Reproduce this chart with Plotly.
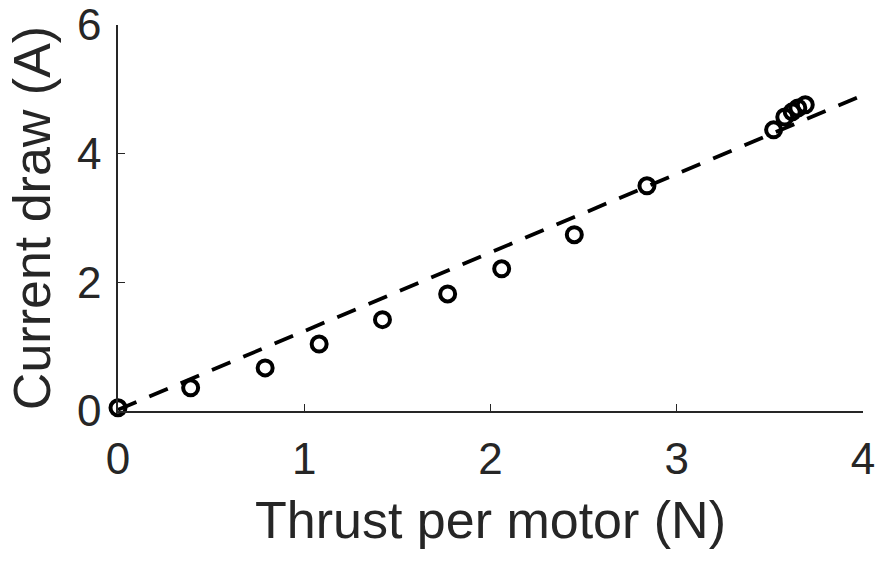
import plotly.graph_objects as go

thrust = [0.0, 0.39, 0.79, 1.08, 1.42, 1.77, 2.06, 2.45, 2.84, 3.52, 3.58, 3.62, 3.65, 3.69]
current = [0.05, 0.36, 0.67, 1.04, 1.42, 1.82, 2.21, 2.74, 3.50, 4.37, 4.57, 4.65, 4.71, 4.76]

fit_slope = 1.222
fit_intercept = 0.02
fit_x = [0.0, 4.0]
fit_y = [fit_slope * x + fit_intercept for x in fit_x]

x_ticks = [0, 1, 2, 3, 4]
y_ticks = [0, 2, 4, 6]

ink = "#262626"
font = "Liberation Sans, Arial, sans-serif"

fig = go.Figure()
fig.add_trace(go.Scatter(
    x=thrust, y=current, mode="markers",
    marker=dict(symbol="circle-open", size=15, color="black", line=dict(width=4, color="black")),
    showlegend=False, cliponaxis=False,
))
fig.add_trace(go.Scatter(
    x=fit_x, y=fit_y, mode="lines",
    line=dict(color="black", width=3.8, dash="20px,14px"),
    showlegend=False,
))

fig.update_layout(
    width=880, height=561,
    margin=dict(l=118, r=17, t=25, b=150),
    paper_bgcolor="white", plot_bgcolor="white",
    font=dict(family=font, color=ink),
    xaxis=dict(
        range=[0, 4], tickvals=x_ticks, ticks="inside", ticklen=7, tickcolor=ink,
        showline=True, linecolor=ink, linewidth=1.5, showgrid=False, zeroline=False,
        tickfont=dict(size=44, color=ink), ticklabelstandoff=8, automargin=False,
        title=dict(text="Thrust per motor (N)", font=dict(size=52, color=ink), standoff=20),
    ),
    yaxis=dict(
        range=[0, 6], tickvals=y_ticks, ticks="inside", ticklen=7, tickcolor=ink,
        showline=True, linecolor=ink, linewidth=1.5, showgrid=False, zeroline=False,
        tickfont=dict(size=44, color=ink), ticklabelstandoff=6, automargin=False,
        title=dict(text="Current draw (A)", font=dict(size=52, color=ink), standoff=10),
    ),
)

fig.write_html("out.html")
